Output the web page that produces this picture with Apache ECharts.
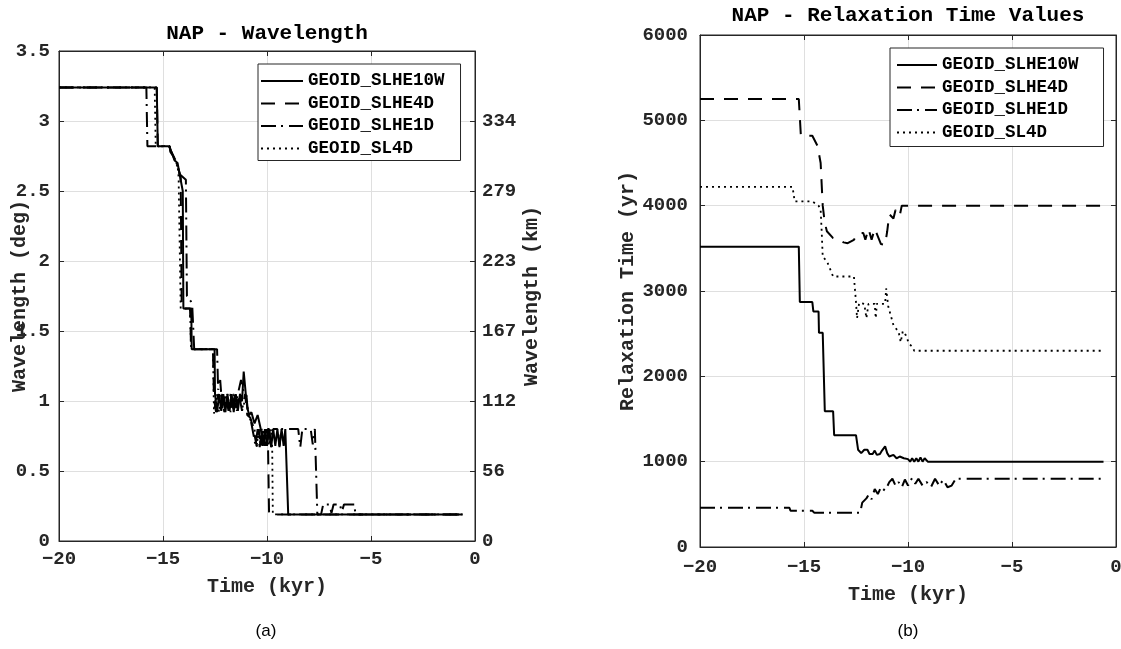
<!DOCTYPE html>
<html><head><meta charset="utf-8">
<script src="https://cdn.jsdelivr.net/npm/echarts@6/dist/echarts.min.js"></script>
<style>html,body{margin:0;padding:0;background:#fff}#c{width:1121px;height:649px}</style>
</head><body><div id="c"></div>
<script>
// ---------- data ----------
const seriesNames = ['GEOID_SLHE10W', 'GEOID_SLHE4D', 'GEOID_SLHE1D', 'GEOID_SL4D'];
const kmTickLabels = ['0', '56', '112', '167', '223', '279', '334', ''];

// (a) Wavelength (deg) vs time (kyr)
const wl10W = [[-20,3.24],[-15.3,3.24],[-15.25,2.82],[-14.68,2.82],[-14.65,2.78],[-14.52,2.75],[-14.45,2.72],[-14.3,2.7],[-14.2,2.62],[-14.05,2.5],[-14.02,1.66],[-13.64,1.66],[-13.62,1.37],[-12.52,1.37],[-12.5,1.05],[-12.4,0.92],[-12.3,1.05],[-12.2,0.93],[-12.1,1.05],[-12.0,0.92],[-11.9,1.05],[-11.8,0.93],[-11.7,1.05],[-11.6,0.92],[-11.5,1.05],[-11.4,0.93],[-11.3,1.05],[-11.2,1.0],[-11.12,1.21],[-11.02,1.05],[-10.95,0.95],[-10.85,0.9],[-10.75,0.92],[-10.6,0.84],[-10.45,0.9],[-10.3,0.8],[-10.2,0.68],[-10.1,0.8],[-10.0,0.68],[-9.9,0.8],[-9.8,0.67],[-9.7,0.8],[-9.6,0.68],[-9.5,0.8],[-9.4,0.67],[-9.3,0.8],[-9.2,0.68],[-9.12,0.8],[-9.05,0.8],[-8.98,0.19],[-0.6,0.19]];
const wl4D = [[-20,3.24],[-15.3,3.24],[-15.25,2.82],[-14.7,2.82],[-14.6,2.78],[-14.45,2.73],[-14.3,2.68],[-14.15,2.6],[-14.1,1.66],[-13.7,1.66],[-13.65,1.37],[-12.6,1.37],[-12.55,1.02],[-12.45,0.92],[-12.35,1.05],[-12.25,0.95],[-12.15,1.05],[-12.05,0.92],[-11.95,1.05],[-11.85,0.95],[-11.75,1.05],[-11.65,0.92],[-11.55,1.05],[-11.45,0.95],[-11.35,1.05],[-11.2,0.93],[-11.05,1.05],[-10.95,0.9],[-10.8,0.88],[-10.65,0.8],[-10.5,0.68],[-10.4,0.8],[-10.3,0.67],[-10.2,0.8],[-10.1,0.68],[-10.0,0.8],[-9.95,0.67],[-9.9,0.19],[-0.6,0.19]];
const wl1D = [[-20,3.24],[-15.8,3.24],[-15.75,2.82],[-14.7,2.82],[-14.6,2.78],[-14.4,2.72],[-14.2,2.62],[-13.9,2.58],[-13.85,1.75],[-13.6,1.7],[-13.5,1.37],[-12.4,1.37],[-12.35,1.08],[-12.25,1.15],[-12.15,0.95],[-12.0,1.05],[-11.85,0.93],[-11.7,1.05],[-11.55,0.95],[-11.4,1.05],[-11.25,1.15],[-11.1,1.05],[-11.0,1.05],[-10.9,0.9],[-10.8,0.88],[-10.7,0.8],[-10.55,0.68],[-10.45,0.8],[-10.35,0.67],[-10.25,0.8],[-10.1,0.68],[-10.0,0.8],[-9.9,0.8],[-9.8,0.67],[-9.7,0.8],[-9.5,0.8],[-9.4,0.68],[-9.3,0.8],[-8.5,0.8],[-8.4,0.67],[-8.3,0.8],[-7.9,0.8],[-7.8,0.69],[-7.7,0.8],[-7.62,0.8],[-7.58,0.19],[-7.4,0.19],[-7.3,0.26],[-7.0,0.26],[-6.9,0.2],[-6.8,0.26],[-6.5,0.26],[-6.4,0.21],[-6.3,0.26],[-5.8,0.26],[-5.75,0.19],[-0.6,0.19]];
const wlSL4D = [[-20,3.24],[-15.4,3.24],[-15.35,2.82],[-14.7,2.82],[-14.6,2.78],[-14.45,2.73],[-14.3,2.68],[-14.25,2.6],[-14.15,1.66],[-13.7,1.66],[-13.65,1.37],[-12.6,1.37],[-12.55,0.91],[-12.45,1.05],[-12.3,0.92],[-12.2,1.05],[-12.05,0.93],[-11.9,1.05],[-11.75,0.92],[-11.6,1.05],[-11.45,0.93],[-11.3,1.05],[-11.15,0.95],[-11.0,1.05],[-10.9,0.9],[-10.75,0.85],[-10.6,0.8],[-10.5,0.67],[-10.4,0.8],[-10.3,0.68],[-10.2,0.8],[-10.1,0.67],[-10.0,0.8],[-9.9,0.68],[-9.8,0.8],[-9.75,0.67],[-9.72,0.19],[-0.6,0.19]];

// (b) Relaxation time (yr) vs time (kyr)
const rt10W = [[-20,3520],[-15.25,3520],[-15.2,2870],[-14.6,2870],[-14.55,2760],[-14.3,2760],[-14.28,2510],[-14.1,2510],[-14.0,1590],[-13.6,1590],[-13.55,1310],[-12.5,1310],[-12.4,1140],[-12.25,1100],[-12.1,1140],[-11.95,1140],[-11.85,1090],[-11.7,1090],[-11.6,1130],[-11.5,1080],[-11.35,1090],[-11.25,1130],[-11.1,1180],[-11.0,1100],[-10.9,1060],[-10.7,1080],[-10.55,1040],[-10.4,1060],[-10.2,1040],[-10.0,1030],[-9.9,1000],[-9.8,1040],[-9.7,1000],[-9.6,1040],[-9.5,1000],[-9.4,1050],[-9.3,1000],[-9.2,1040],[-9.05,1000],[-0.6,1000]];
const rt4D = [[-20,5250],[-15.25,5250],[-15.15,4820],[-14.6,4820],[-14.35,4700],[-14.2,4500],[-14.1,4000],[-14.0,3800],[-13.9,3700],[-13.6,3620],[-13.3,3600],[-13.1,3570],[-12.9,3560],[-12.6,3600],[-12.4,3680],[-12.15,3680],[-12.05,3600],[-11.9,3730],[-11.75,3600],[-11.6,3730],[-11.45,3640],[-11.3,3550],[-11.1,3540],[-11.0,3700],[-10.9,3900],[-10.7,3850],[-10.6,3950],[-10.4,3880],[-10.3,4000],[-10.0,4000],[-0.6,4000]];
const rt1D = [[-20,460],[-15.7,460],[-15.65,425],[-14.6,425],[-14.5,400],[-12.3,400],[-12.2,520],[-12.0,570],[-11.9,610],[-11.75,560],[-11.6,680],[-11.45,620],[-11.3,700],[-11.1,660],[-10.9,760],[-10.75,800],[-10.6,720],[-10.45,760],[-10.3,700],[-10.15,790],[-10.0,720],[-9.8,810],[-9.65,740],[-9.5,800],[-9.3,720],[-9.1,760],[-8.9,700],[-8.7,800],[-8.5,720],[-8.3,790],[-8.1,700],[-7.9,720],[-7.7,800],[-0.6,800]];
const rtSL4D = [[-20,4220],[-15.55,4220],[-15.45,4050],[-14.6,4050],[-14.3,4000],[-14.2,3950],[-14.15,3700],[-14.1,3400],[-13.9,3350],[-13.6,3170],[-12.6,3170],[-12.5,2870],[-12.45,2680],[-12.35,2860],[-12.1,2850],[-12.0,2680],[-11.9,2850],[-11.6,2850],[-11.55,2680],[-11.5,2850],[-11.1,2850],[-11.05,3030],[-10.95,2820],[-10.7,2600],[-10.45,2520],[-10.35,2400],[-10.25,2530],[-10.1,2480],[-9.95,2380],[-9.8,2350],[-9.7,2300],[-0.6,2300]];

// ---------- styling ----------
const FONT = 'Liberation Mono';
const TXT = '#262626';
const GRIDC = '#dfdfdf';
const lineTypes = ['solid', [14, 10], [15, 5, 2, 6], [2, 4]];
const lineWidths = [2, 2, 2, 1.8];

function minusFmt(v) { return String(v).replace('-', '\u2212'); }
function plainFmt(v) { return String(v); }

function xAxis(gridIndex, pos, opts) {
  const bottom = pos === 'bottom';
  return Object.assign({
    type: 'value', gridIndex: gridIndex, position: pos,
    min: -20, max: 0, interval: 5,
    axisLine: { show: true, onZero: false, lineStyle: { color: TXT, width: 1 } },
    axisTick: { show: true, inside: true, length: 5, lineStyle: { color: TXT } },
    axisLabel: { show: bottom, formatter: minusFmt, fontFamily: FONT, fontWeight: 'bold', fontSize: 19, color: TXT, margin: 9 },
    splitLine: { show: bottom, lineStyle: { color: GRIDC, width: 1 } },
    name: bottom ? 'Time (kyr)' : '', nameLocation: 'middle', nameGap: 36, nameMoveOverlap: false,
    nameTextStyle: { fontFamily: FONT, fontWeight: 'bold', fontSize: 20, color: TXT }
  }, opts || {});
}

function yAxis(gridIndex, pos, opts) {
  return Object.assign({
    type: 'value', gridIndex: gridIndex, position: pos,
    axisLine: { show: true, onZero: false, lineStyle: { color: TXT, width: 1 } },
    axisTick: { show: true, inside: true, length: 5, lineStyle: { color: TXT } },
    axisLabel: { show: true, formatter: plainFmt, fontFamily: FONT, fontWeight: 'bold', fontSize: 19, color: TXT, margin: 9 },
    splitLine: { show: false, lineStyle: { color: GRIDC, width: 1 } },
    nameLocation: 'middle', nameMoveOverlap: false,
    nameTextStyle: { fontFamily: FONT, fontWeight: 'bold', fontSize: 20, color: TXT }
  }, opts || {});
}

function mkSeries(name, idx, data, xi, yi) {
  return {
    type: 'line', name: name, data: data, xAxisIndex: xi, yAxisIndex: yi,
    symbol: 'none', showSymbol: false, animation: false, z: 3 + idx, color: '#000',
    itemStyle: { color: '#000' },
    lineStyle: { color: '#000', width: lineWidths[idx], type: lineTypes[idx], cap: 'butt' }
  };
}

const leftSets = [wl10W, wl4D, wl1D, wlSL4D];
const rightSets = [rt10W, rt4D, rt1D, rtSL4D];
const series = [];
leftSets.forEach((d, i) => series.push(mkSeries(seriesNames[i], i, d, 0, 0)));
rightSets.forEach((d, i) => series.push(mkSeries(seriesNames[i], i, d, 2, 2)));

const legendBase = {
  orient: 'vertical', selectedMode: false, data: seriesNames,
  backgroundColor: '#fff', borderColor: TXT, borderWidth: 1, borderRadius: 0,
  itemHeight: 14, itemGap: 4.5,
  itemStyle: { opacity: 0 },
  textStyle: { fontFamily: FONT, fontWeight: 'bold', fontSize: 17.5, color: '#000', lineHeight: 18 }
};

const option = {
  animation: false,
  backgroundColor: '#fff',
  color: ['#000'],
  grid: [
    { left: 59, top: 51, width: 416, height: 490, show: true, borderColor: TXT, borderWidth: 1, backgroundColor: 'transparent', containLabel: false, outerBoundsMode: 'none' },
    { left: 700, top: 35, width: 416, height: 512, show: true, borderColor: TXT, borderWidth: 1, backgroundColor: 'transparent', containLabel: false, outerBoundsMode: 'none' }
  ],
  xAxis: [
    xAxis(0, 'bottom'),
    xAxis(0, 'top'),
    xAxis(1, 'bottom', { nameGap: 38, axisLabel: { show: true, formatter: minusFmt, fontFamily: FONT, fontWeight: 'bold', fontSize: 19, color: TXT, margin: 11 } }),
    xAxis(1, 'top')
  ],
  yAxis: [
    yAxis(0, 'left', { min: 0, max: 3.5, interval: 0.5, name: 'Wavelength (deg)', nameGap: 29,
      splitLine: { show: true, lineStyle: { color: GRIDC, width: 1 } } }),
    yAxis(0, 'right', { min: 0, max: 3.5, interval: 0.5, name: 'Wavelength (km)', nameGap: 47,
      axisLabel: { show: true, fontFamily: FONT, fontWeight: 'bold', fontSize: 19, color: TXT, margin: 7,
        formatter: function (v) { const k = Math.round(v / 0.5); return kmTickLabels[k] || ''; } } }),
    yAxis(1, 'left', { min: 0, max: 6000, interval: 1000, name: 'Relaxation Time (yr)', nameGap: 62,
      axisLabel: { show: true, formatter: plainFmt, fontFamily: FONT, fontWeight: 'bold', fontSize: 19, color: TXT, margin: 12 },
      splitLine: { show: true, lineStyle: { color: GRIDC, width: 1 } } }),
    yAxis(1, 'right', { min: 0, max: 6000, interval: 1000, axisLabel: { show: false } })
  ],
  legend: [
    Object.assign({}, legendBase, { left: 258, top: 64, itemWidth: 42, padding: [8, 16, 3, 2] }),
    Object.assign({}, legendBase, { left: 890, top: 48, itemWidth: 40, padding: [8, 25, 5, 6] })
  ],
  graphic: [
    { type: 'text', x: 267, y: 34, style: { text: 'NAP - Wavelength', font: 'bold 21px "Liberation Mono"', fill: '#000', align: 'center', verticalAlign: 'middle' } },
    { type: 'text', x: 908, y: 16, style: { text: 'NAP - Relaxation Time Values', font: 'bold 21px "Liberation Mono"', fill: '#000', align: 'center', verticalAlign: 'middle' } },
    { type: 'text', x: 266, y: 631, style: { text: '(a)', font: '17px "Liberation Sans"', fill: '#000', align: 'center', verticalAlign: 'middle' } },
    { type: 'text', x: 908, y: 631, style: { text: '(b)', font: '17px "Liberation Sans"', fill: '#000', align: 'center', verticalAlign: 'middle' } }
  ],
  series: series
};

const chart = echarts.init(document.getElementById('c'), null, { renderer: 'canvas' });
chart.setOption(option);
</script>
</body></html>
